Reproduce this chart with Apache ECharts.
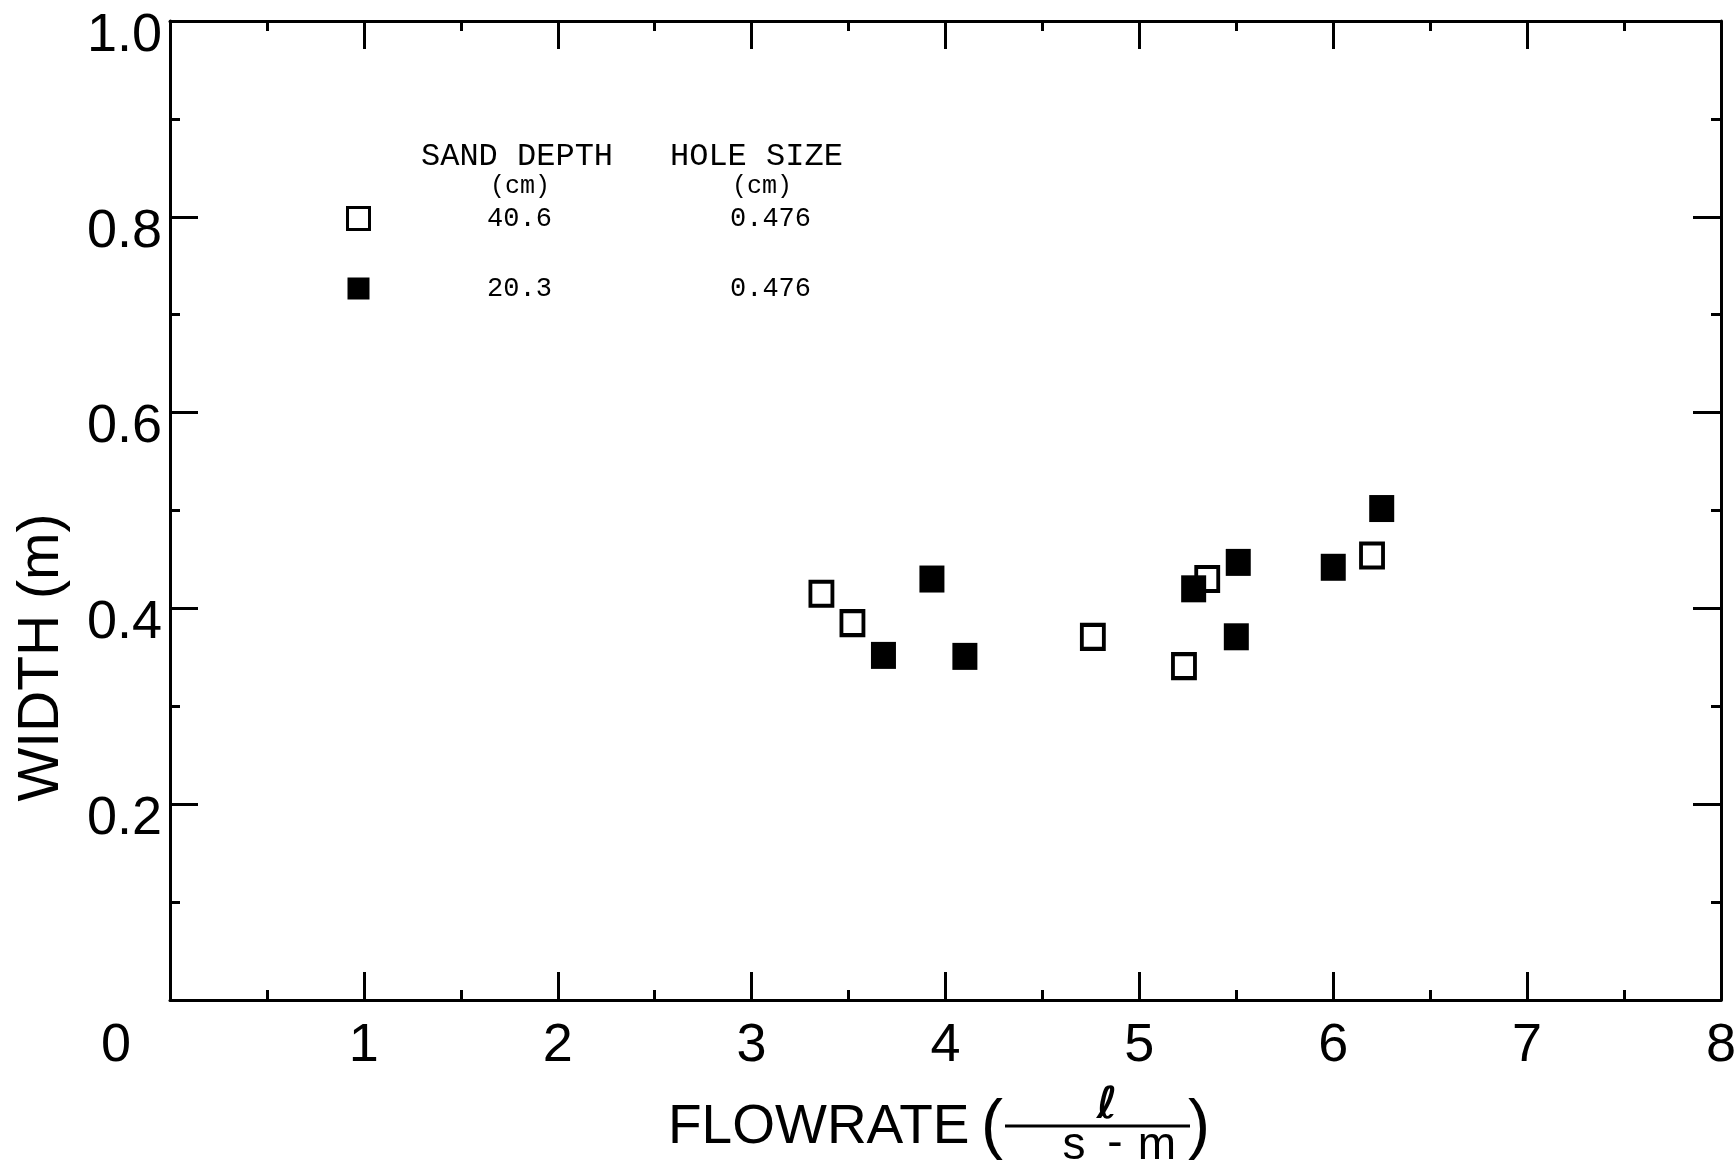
<!DOCTYPE html>
<html>
<head>
<meta charset="utf-8">
<title>width vs flowrate</title>
<script type="text/javascript" src="https://cdn.jsdelivr.net/npm/echarts@6/dist/echarts.min.js"></script>
<style>
	html, body { margin: 0; padding: 0; background: #fff; }
	#container { width: 1735px; height: 1165px; }
</style>
</head>
<body>
	<div id="container"></div>
	<script type="text/javascript">
	// sand depth 40.6 cm (open squares)
	var openPts = [
		[3.36, 0.415], [3.52, 0.385], [4.76, 0.371],
		[5.23, 0.341], [5.35, 0.430], [6.20, 0.454]
	];
	// sand depth 20.3 cm (filled squares)
	var filledPts = [
		[3.68, 0.352], [3.93, 0.430], [4.10, 0.351], [5.28, 0.420],
		[5.51, 0.447], [5.50, 0.371], [6.00, 0.442], [6.25, 0.502]
	];
	var sandDepth = ['40.6', '20.3'];
	var holeSize = ['0.476', '0.476'];
	var xTicks = [0, 1, 2, 3, 4, 5, 6, 7, 8];
	var yTicks = [0.2, 0.4, 0.6, 0.8, 1.0];

	var sans = '"Liberation Sans", Arial, sans-serif';
	var mono = '"Liberation Mono", "DejaVu Sans Mono", monospace';

	var dom = document.getElementById("container");
	var myChart = echarts.init(dom);

	function frameAxis(extra) {
		var ax = {
			type: 'value',
			axisLine: { show: true, onZero: false, lineStyle: { color: '#000', width: 3 } },
			axisTick: { show: true, inside: true, length: 28, lineStyle: { color: '#000', width: 3 } },
			minorTick: { show: true, splitNumber: 2, length: 10, lineStyle: { color: '#000', width: 3 } },
			splitLine: { show: false },
			minorSplitLine: { show: false }
		};
		for (var k in extra) ax[k] = extra[k];
		return ax;
	}

	// small helper for the graphic texts
	function txt(x, y, s, font, align) {
		return { type: 'text', x: x, y: y, style: { text: s, font: font, fill: '#000', align: align || 'left', verticalAlign: 'middle' } };
	}

	var option = {
		animation: false,
		backgroundColor: '#fff',
		grid: { left: 170, right: 14, top: 21, bottom: 165, containLabel: false, outerBoundsMode: 'none' },
		xAxis: [
			frameAxis({
				position: 'bottom', min: xTicks[0], max: xTicks[xTicks.length - 1], interval: 1,
				axisLabel: {
					margin: 19, color: '#000', fontFamily: sans, fontSize: 54,
					formatter: function (v) { return v === 0 ? '{z|0}' : String(v); },
					rich: { z: { fontFamily: sans, fontSize: 54, color: '#000', padding: [0, 108, 0, 0] } }
				}
			}),
			frameAxis({
				position: 'top', min: xTicks[0], max: xTicks[xTicks.length - 1], interval: 1,
				axisLabel: { show: false }
			})
		],
		yAxis: [
			frameAxis({
				position: 'left', min: 0, max: yTicks[yTicks.length - 1], interval: 0.2,
				name: 'WIDTH (m)', nameLocation: 'middle', nameGap: 99, nameRotate: 90,
				nameTextStyle: { color: '#000', fontFamily: sans, fontSize: 57, padding: [0, 294, 0, 0] },
				axisLabel: {
					margin: 8, color: '#000', fontFamily: sans, fontSize: 54,
					formatter: function (v) { return v === 0 ? '' : '{v|' + v.toFixed(1) + '}'; },
					rich: { v: { fontFamily: sans, fontSize: 54, color: '#000', padding: [30, 0, 0, 0] } }
				}
			}),
			frameAxis({
				position: 'right', min: 0, max: yTicks[yTicks.length - 1], interval: 0.2,
				axisLabel: { show: false }
			})
		],
		legend: {
			orient: 'vertical', left: 346, top: 205, itemGap: 43, padding: 0,
			itemWidth: 22, itemHeight: 22, icon: 'rect', selectedMode: false,
			data: [
				{ name: sandDepth[0], itemStyle: { color: '#fff', borderColor: '#000', borderWidth: 3 } },
				{ name: sandDepth[1], itemStyle: { color: '#000', borderWidth: 0 } }
			],
			formatter: function (name) {
				return '{a|' + name + '}{b|' + holeSize[sandDepth.indexOf(name)] + '}';
			},
			textStyle: {
				rich: {
					a: { width: 290, align: 'center', fontFamily: mono, fontSize: 27, color: '#000' },
					b: { width: 212, align: 'center', fontFamily: mono, fontSize: 27, color: '#000' }
				}
			}
		},
		graphic: [
			txt(421, 157, 'SAND DEPTH', '32px ' + mono),
			txt(520, 186, '(cm)', '25px ' + mono, 'center'),
			txt(670, 157, 'HOLE SIZE', '32px ' + mono),
			txt(762, 186, '(cm)', '25px ' + mono, 'center'),
			// axis title with the l / (s-m) fraction
			txt(668, 1128, 'FLOWRATE', '55px ' + sans),
			txt(992, 1128, '(', '66px ' + sans, 'center'),
			txt(1107, 1107, 'ℓ', 'bold 44px "DejaVu Sans", sans-serif', 'center'),
			{ type: 'line', shape: { x1: 1005, y1: 1126, x2: 1190, y2: 1126 }, style: { stroke: '#000', lineWidth: 3 } },
			txt(1074, 1146, 's', '46px ' + sans, 'center'),
			txt(1115, 1144, '-', '46px ' + sans, 'center'),
			txt(1157, 1146, 'm', '46px ' + sans, 'center'),
			txt(1199, 1128, ')', '66px ' + sans, 'center')
		],
		series: [
			{
				name: sandDepth[0], type: 'scatter', data: openPts,
				symbol: 'rect', symbolSize: [22, 24],
				itemStyle: { color: '#fff', borderColor: '#000', borderWidth: 4, opacity: 1 },
				emphasis: { disabled: true }
			},
			{
				name: sandDepth[1], type: 'scatter', data: filledPts,
				symbol: 'rect', symbolSize: [25, 27],
				itemStyle: { color: '#000', opacity: 1 },
				emphasis: { disabled: true }
			}
		]
	};
	myChart.setOption(option, true);
	</script>
</body>
</html>
